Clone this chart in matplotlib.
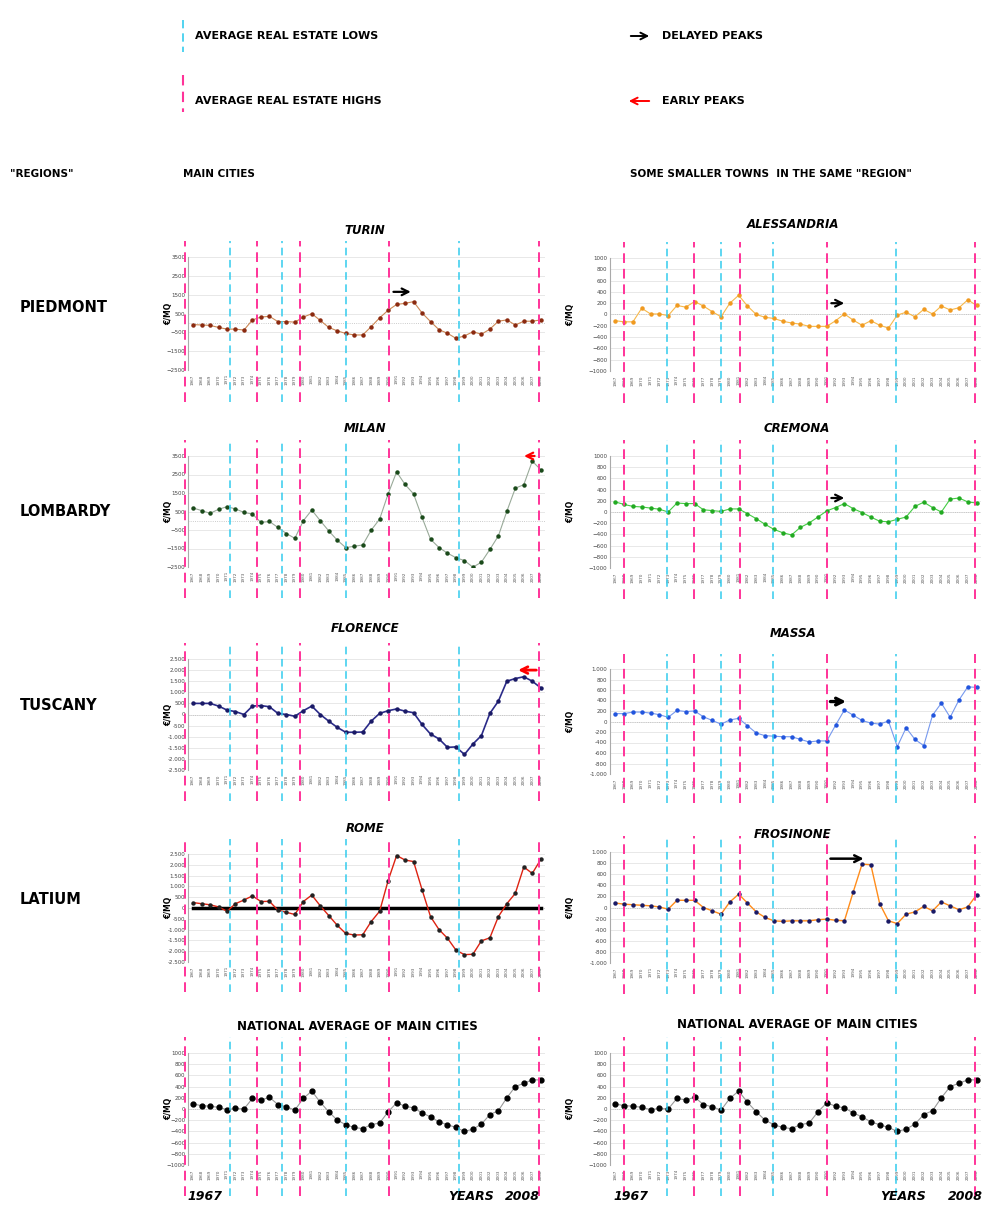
import matplotlib.pyplot as plt
import numpy as np

W, H = 983, 1207
years = list(range(1967, 2009))

turin = [-90, -110, -130, -240, -330, -330, -380, 160, 310, 350, 70, 70, 40, 310, 490, 130, -240, -420, -560, -640,
         -640, -200, 270, 670, 980, 1040, 1130, 530, 70, -360, -550, -820, -690, -470, -600, -330, 90, 160, -110, 90, 90, 160]
milan = [690, 550, 400, 620, 760, 640, 450, 360, -90, -40, -360, -690, -950, 0, 580, 0, -550, -1050, -1450, -1380,
         -1310, -510, 90, 1450, 2640, 1960, 1450, 180, -1000, -1450, -1750, -2000, -2150, -2510, -2240, -1550, -820,
         510, 1760, 1950, 3220, 2760]
florence = [500, 500, 500, 380, 200, 130, 0, 380, 400, 350, 50, 0, -80, 170, 380, 0, -300, -580, -800, -800, -790,
            -300, 50, 170, 250, 150, 80, -450, -880, -1100, -1480, -1460, -1800, -1330, -950, 50, 600, 1500, 1620,
            1700, 1500, 1200]
rome = [250, 200, 150, 50, -150, 200, 370, 560, 300, 310, -100, -200, -300, 300, 600, 100, -350, -800, -1180, -1250,
        -1240, -630, -150, 1270, 2430, 2220, 2150, 850, -400, -1000, -1400, -1950, -2160, -2140, -1520, -1380, -400,
        200, 680, 1900, 1600, 2250]
alessandria = [-110, -130, -130, 110, 10, 10, -20, 160, 130, 230, 150, 50, -40, 200, 340, 150, 0, -50, -70, -120,
               -150, -170, -210, -210, -210, -110, 10, -100, -190, -110, -190, -240, -10, 40, -40, 90, 10, 150, 80,
               120, 260, 160]
cremona = [180, 135, 100, 90, 70, 50, 0, 160, 150, 150, 40, 25, 10, 55, 55, -30, -120, -220, -310, -370, -410, -275,
           -195, -90, 20, 80, 150, 60, -10, -90, -165, -175, -130, -90, 100, 175, 80, 0, 230, 250, 180, 160]
massa = [150, 150, 180, 180, 160, 130, 80, 210, 190, 200, 90, 20, -50, 30, 60, -80, -220, -270, -280, -290, -290,
         -340, -390, -370, -370, -70, 220, 120, 20, -30, -50, 10, -480, -120, -340, -460, 120, 350, 80, 410, 660, 650]
frosinone = [80, 60, 50, 40, 30, 10, -30, 130, 130, 130, 0, -60, -120, 100, 240, 80, -80, -180, -240, -250, -240,
             -240, -240, -220, -210, -230, -240, 280, 780, 770, 70, -240, -290, -120, -80, 20, -60, 100, 30, -40, 10, 230]
national = [90, 60, 50, 30, -10, 10, 0, 190, 160, 210, 80, 40, -20, 190, 320, 120, -50, -200, -280, -330, -350, -280,
            -250, -50, 110, 50, 20, -70, -140, -230, -280, -330, -400, -360, -270, -100, -30, 200, 400, 460, 520, 520]

# positions of the dashed marker lines (in year-index units)
left_highs = [-0.9, 7.5, 12.6, 23.1, 40.8]
left_lows = [4.3, 10.5, 18.0, 31.4]
right_highs = [1.0, 8.9, 14.1, 24.0, 40.8]
right_lows = [5.9, 12.0, 17.9, 31.8]

MAG = '#ff3399'
CYAN = '#33ccee'

fig = plt.figure(figsize=(W / 100, H / 100), dpi=100)


def px(x, y):
    return x / W, 1 - y / H


def make_ax(x0, x1, ytop, ybot):
    l, b = px(x0, ybot)
    return fig.add_axes([l, b, (x1 - x0) / W, (ybot - ytop) / H])


def panel(x0, x1, ytop, ybot, vals, lim, step, line_c, mark_c, side, dots=False, ms=2.2, lw=0.8):
    ax = make_ax(x0, x1, ytop, ybot)
    x = np.arange(len(vals))
    top = 3500 if step == 1000 and lim == 2500 else lim
    ax.set_xlim(-0.6, 41.5)
    ax.set_ylim(-lim, top)
    ticks = np.arange(-lim, top + 1, step)
    ax.set_yticks(ticks)
    if dots:
        ax.set_yticklabels([f'{t:,.0f}'.replace(',', '.') for t in ticks])
    ax.tick_params(axis='y', labelsize=4, length=0, pad=2, colors='#444444')
    ax.set_xticks(x)
    ax.set_xticklabels([str(y) for y in years], rotation=90, fontsize=3, color='#555555')
    ax.tick_params(axis='x', length=0, pad=3)
    for s in ['top', 'right', 'bottom']:
        ax.spines[s].set_visible(False)
    ax.spines['left'].set_color('#aaaaaa')
    ax.grid(axis='y', color='#e4e4e4', lw=0.6)
    ax.axhline(0, color='#bbbbbb', lw=0.6, ls=':')
    ax.plot(x, vals, color=line_c, lw=lw, marker='o', ms=ms, mfc=mark_c, mec=mark_c, zorder=3)
    highs = left_highs if side == 'l' else right_highs
    lows = left_lows if side == 'l' else right_lows
    for h in highs:
        ax.axvline(h, ymin=-0.28, ymax=1.14, color=MAG, ls=(0, (5, 3)), lw=1.4, clip_on=False, zorder=4)
    for c in lows:
        ax.axvline(c, ymin=-0.28, ymax=1.14, color=CYAN, ls=(0, (5, 3)), lw=1.1, clip_on=False, zorder=4)
    ax.text(-0.055 if side == 'l' else -0.105, 0.5, '€/MQ', transform=ax.transAxes, rotation=90,
            fontsize=5.5, fontweight='bold', va='center', ha='center')
    return ax


def arrow(ax, x0, x1, y, color, lw=1.6):
    ax.annotate('', xy=(x1, y), xytext=(x0, y),
                arrowprops=dict(arrowstyle='->', color=color, lw=lw, mutation_scale=12), annotation_clip=False)


LX0, LX1 = 188, 545
RX0, RX1 = 610, 981

a = panel(LX0, LX1, 257, 370, turin, 2500, 1000, '#cc8855', '#8b2a10', 'l')
arrow(a, 23.3, 26.0, 1650, 'black')
a = panel(RX0, RX1, 258, 371, alessandria, 1000, 200, '#f7b84a', '#f09a20', 'r')
arrow(a, 24.2, 26.3, 200, 'black')
a = panel(LX0, LX1, 456, 567, milan, 2500, 1000, '#99aa99', '#1a4a1a', 'l')
arrow(a, 40.6, 38.7, 3500, 'red')
a = panel(RX0, RX1, 456, 568, cremona, 1000, 200, '#44cc44', '#22aa22', 'r')
arrow(a, 24.2, 26.3, 250, 'black')
a = panel(LX0, LX1, 659, 770, florence, 2500, 500, '#2a2a88', '#1a1a66', 'l', dots=True, lw=1.2)
arrow(a, 40.8, 38.0, 2000, 'red', lw=2)
a = panel(RX0, RX1, 669, 774, massa, 1000, 200, '#7799ee', '#2255dd', 'r', dots=True)
arrow(a, 24.1, 26.5, 380, 'black', lw=2.4)
a = panel(LX0, LX1, 854, 962, rome, 2500, 500, '#dd2211', '#222222', 'l', dots=True, lw=1.0)
a.plot([0, 41], [0, 0], color='black', lw=2.5, zorder=2)
a = panel(RX0, RX1, 852, 963, frosinone, 1000, 200, '#ff8c1a', '#1a1a66', 'r', dots=True, lw=1.0)
arrow(a, 24.1, 28.5, 880, 'black', lw=1.8)
panel(LX0, LX1, 1053, 1165, national, 1000, 200, '#999999', 'black', 'l', ms=3.5)
panel(RX0, RX1, 1053, 1165, national, 1000, 200, '#999999', 'black', 'r', ms=3.5)

# titles
for t, x, y in [('TURIN', 365, 231), ('MILAN', 365, 428), ('FLORENCE', 365, 629), ('ROME', 365, 829),
                ('ALESSANDRIA', 793, 225), ('CREMONA', 797, 428), ('MASSA', 793, 633), ('FROSINONE', 793, 834)]:
    fig.text(*px(x, y), t, fontsize=8.5, fontweight='bold', style='italic', ha='center', va='center')
fig.text(*px(357, 1027), 'NATIONAL AVERAGE OF MAIN CITIES', fontsize=8.5, fontweight='bold', ha='center', va='center')
fig.text(*px(797, 1025), 'NATIONAL AVERAGE OF MAIN CITIES', fontsize=8.5, fontweight='bold', ha='center', va='center')

# region labels
for t, y in [('PIEDMONT', 307), ('LOMBARDY', 512), ('TUSCANY', 706), ('LATIUM', 900)]:
    fig.text(*px(20, y), t, fontsize=10.5, fontweight='bold', va='center')

fig.text(*px(10, 174), '"REGIONS"', fontsize=7.5, fontweight='bold', va='center')
fig.text(*px(183, 174), 'MAIN CITIES', fontsize=7.5, fontweight='bold', va='center')
fig.text(*px(630, 174), 'SOME SMALLER TOWNS  IN THE SAME "REGION"', fontsize=7.5, fontweight='bold', va='center')

# legend
fig.add_artist(plt.Line2D([183 / W] * 2, [1 - 20 / H, 1 - 52 / H], color=CYAN, ls=(0, (5, 3)), lw=1.2))
fig.add_artist(plt.Line2D([183 / W] * 2, [1 - 75 / H, 1 - 112 / H], color=MAG, ls=(0, (5, 3)), lw=1.5))
fig.text(*px(195, 36), 'AVERAGE REAL ESTATE LOWS', fontsize=8, fontweight='bold', va='center')
fig.text(*px(195, 101), 'AVERAGE REAL ESTATE HIGHS', fontsize=8, fontweight='bold', va='center')
fig.add_artist(plt.matplotlib.patches.FancyArrowPatch(px(628, 36), px(652, 36), arrowstyle='->',
                                                      mutation_scale=12, color='black', lw=1.4))
fig.add_artist(plt.matplotlib.patches.FancyArrowPatch(px(652, 101), px(626, 101), arrowstyle='->',
                                                      mutation_scale=12, color='red', lw=1.4))
fig.text(*px(662, 36), 'DELAYED PEAKS', fontsize=8, fontweight='bold', va='center')
fig.text(*px(662, 101), 'EARLY PEAKS', fontsize=8, fontweight='bold', va='center')

# bottom year labels
for t, x in [('1967', 187), ('YEARS', 448), ('2008', 505), ('1967', 613), ('YEARS', 880), ('2008', 948)]:
    fig.text(*px(x, 1197), t, fontsize=9, fontweight='bold', style='italic', va='center')

fig.savefig('out.png', dpi=100, facecolor='white')
